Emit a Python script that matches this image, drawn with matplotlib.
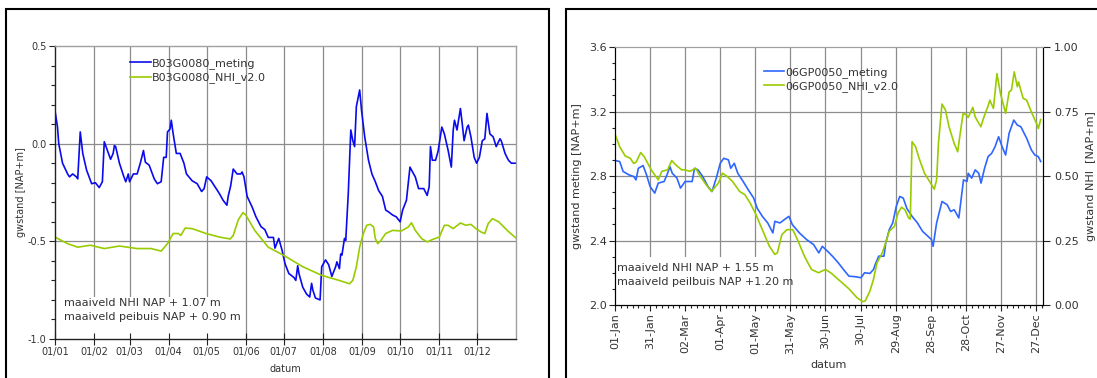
import matplotlib
matplotlib.use("Agg")
import matplotlib.pyplot as plt
from matplotlib.patches import Rectangle
from matplotlib.ticker import MultipleLocator

plt.rcParams['font.family'] = ['DejaVu Sans']

# ---------------- left panel: B03G0080 ----------------
b03_days = [0, 2, 3, 6, 10, 11.5, 14, 17, 18, 20, 22, 25, 29, 32, 35, 37.5, 39, 41.5, 44, 46, 47, 48,
            51, 54, 56, 58, 59, 62, 65, 67.5, 70, 71.5, 74.5, 78.5, 81, 84, 86, 88, 89, 91, 92, 93.5,
            96, 99, 102, 104, 108.5, 112.5, 116, 118, 120, 123.5, 126, 130, 133, 136, 137, 139, 141,
            144, 147, 148, 149.5, 152, 156, 159, 163, 166, 168.7, 172.8, 174, 177, 179.6, 182, 185,
            189, 190.5, 192, 193, 196, 199, 201.5, 203, 204, 206, 209.7, 211, 214, 216.5, 219, 222,
            223, 225, 226, 227, 229, 230, 232, 234, 235.6, 237, 238.4, 241, 242.5, 245, 248, 250.7,
            253.4, 256, 259, 261.6, 264, 267, 270, 273, 275, 278, 280.8, 282, 285, 287.6, 291.7,
            294.4, 296, 297, 298.5, 301, 303, 306, 308, 311, 313.5, 315, 316, 318, 320.7, 322, 323.6,
            326, 327, 329, 331.6, 333.5, 335.7, 338, 340, 341.7, 344, 346.6, 349, 352, 353, 356,
            358.7, 361, 364.6]
b03_meting = [0.17, 0.085, 0.0, -0.10, -0.155, -0.17, -0.155, -0.17, -0.18, 0.06, -0.05, -0.135, -0.205,
              -0.20, -0.225, -0.195, 0.01, -0.035, -0.08, -0.05, -0.01, -0.015, -0.10, -0.16, -0.195,
              -0.155, -0.195, -0.155, -0.155, -0.10, -0.035, -0.095, -0.11, -0.18, -0.205, -0.195,
              -0.07, -0.07, 0.06, 0.075, 0.12, 0.05, -0.05, -0.05, -0.10, -0.155, -0.19, -0.205,
              -0.245, -0.23, -0.17, -0.19, -0.215, -0.255, -0.29, -0.315, -0.27, -0.215, -0.13,
              -0.155, -0.155, -0.145, -0.17, -0.27, -0.325, -0.375, -0.425, -0.44, -0.48, -0.48,
              -0.535, -0.485, -0.545, -0.615, -0.665, -0.685, -0.70, -0.625, -0.665, -0.735, -0.77,
              -0.785, -0.715, -0.75, -0.79, -0.80, -0.63, -0.595, -0.62, -0.68, -0.63, -0.605, -0.64,
              -0.565, -0.57, -0.485, -0.495, -0.255, 0.07, 0.015, -0.015, 0.19, 0.275, 0.17, 0.035,
              -0.085, -0.155, -0.195, -0.24, -0.27, -0.34, -0.35, -0.365, -0.375, -0.40, -0.34,
              -0.29, -0.12, -0.135, -0.17, -0.23, -0.23, -0.265, -0.22, -0.015, -0.085, -0.085,
              -0.04, 0.085, 0.05, -0.035, -0.12, 0.07, 0.12, 0.07, 0.18, 0.11, 0.015, 0.085, 0.095,
              0.035, -0.07, -0.10, -0.07, 0.015, 0.025, 0.155, 0.05, 0.035, -0.015, 0.025, 0.015,
              -0.05, -0.085, -0.10, -0.10]

b03_nhi_days = [0, 10, 18, 28, 39, 51, 65, 76, 84, 89, 93.5, 97.6, 99.5, 103, 108.5, 119.5, 130, 138.6,
                141, 145, 148.7, 151, 158, 168.7, 181, 196, 211, 224.7, 233, 235.6, 238.4, 241, 243.9,
                246.6, 249.3, 252, 253.4, 255.3, 257.5, 261.6, 267, 274, 279.4, 282, 285, 290, 294.4,
                298.5, 304, 308, 311, 315, 320.7, 325, 329, 333, 337, 340, 342.6, 346, 351, 357.7, 364.6]
b03_nhi = [-0.478, -0.512, -0.53, -0.52, -0.537, -0.524, -0.537, -0.537, -0.55, -0.512, -0.46, -0.46,
           -0.47, -0.432, -0.435, -0.46, -0.478, -0.488, -0.47, -0.39, -0.353, -0.366, -0.444, -0.53,
           -0.572, -0.63, -0.674, -0.70, -0.717, -0.70, -0.63, -0.53, -0.46, -0.418, -0.413, -0.426,
           -0.486, -0.512, -0.498, -0.46, -0.444, -0.447, -0.427, -0.405, -0.444, -0.486, -0.503,
           -0.491, -0.478, -0.418, -0.418, -0.435, -0.406, -0.418, -0.413, -0.435, -0.452, -0.46,
           -0.41, -0.384, -0.40, -0.444, -0.483]

left_tick_days = [0, 31, 59, 90, 120, 151, 181, 212, 243, 273, 304, 334]
left_tick_labels = ['01/01', '01/02', '01/03', '01/04', '01/05', '01/06',
                    '01/07', '01/08', '01/09', '01/10', '01/11', '01/12']

# ---------------- right panel: 06GP0050 ----------------
gp_days = [0, 4, 7, 12, 16, 18, 20, 24, 27, 30, 34, 37, 42, 45, 47, 49, 53, 56, 60, 63, 66, 68, 71,
           75, 79.5, 83, 87, 90, 93, 97, 99, 102, 105, 109.6, 114, 118.6, 121.6, 126, 130.6, 135,
           136.7, 141, 148.7, 151.7, 157.7, 163.8, 169.8, 174.3, 177.3, 181.8, 186.3, 191, 195.4,
           200, 206, 210.4, 213.4, 218, 221, 222.5, 225.5, 230, 231.5, 234.5, 237.5, 240.5, 243.5,
           246.5, 249.5, 254, 258.6, 263, 267.6, 270.6, 272, 275, 279.6, 284, 287, 290, 294, 298,
           301, 302, 305, 308, 311, 313, 316, 319, 322, 325, 328, 331, 334, 337, 341, 344, 347,
           352, 356, 359, 362, 364]
gp_meting = [2.896, 2.89, 2.828, 2.807, 2.797, 2.776, 2.848, 2.865, 2.807, 2.735, 2.694, 2.756, 2.766,
             2.817, 2.858, 2.817, 2.787, 2.725, 2.766, 2.766, 2.766, 2.848, 2.838, 2.797, 2.735,
             2.704, 2.797, 2.879, 2.91, 2.90, 2.848, 2.879, 2.817, 2.766, 2.714, 2.663, 2.60, 2.55,
             2.509, 2.447, 2.519, 2.509, 2.55, 2.498, 2.447, 2.406, 2.375, 2.323, 2.364, 2.333, 2.30,
             2.261, 2.22, 2.179, 2.175, 2.169, 2.20, 2.196, 2.22, 2.251, 2.303, 2.303, 2.385, 2.467,
             2.509, 2.612, 2.673, 2.663, 2.60, 2.55, 2.509, 2.457, 2.426, 2.406, 2.364, 2.509, 2.642,
             2.622, 2.58, 2.591, 2.54, 2.776, 2.766, 2.817, 2.787, 2.838, 2.817, 2.756, 2.848, 2.92,
             2.94, 2.982, 3.044, 2.982, 2.93, 3.065, 3.147, 3.116, 3.106, 3.034, 2.962, 2.93, 2.92,
             2.89]

gp_nhi_days = [0, 4, 8.7, 13, 16, 18, 22, 25, 31, 37, 40, 45, 48.5, 52, 57, 60, 64, 69, 73, 78, 82.5,
               88.5, 92, 96, 100.5, 106.6, 111, 115.6, 120, 126, 132, 136.7, 138.8, 142.7, 147, 152,
               156, 162, 168, 174, 180, 185, 191, 200, 207, 212, 214, 218, 221, 224, 228.5, 231.5,
               234.5, 239, 242, 245, 248, 251, 252.5, 254, 257, 260, 264.6, 269, 273, 275, 276.6,
               279.6, 282.6, 285.6, 290, 293, 296, 297.7, 300.7, 302, 306, 308, 312.8, 316, 319,
               320.5, 323.6, 326.6, 329.6, 334, 337, 339, 341.4, 344, 345, 349, 352, 356, 361, 362, 364]
gp_nhi = [0.663, 0.614, 0.578, 0.569, 0.549, 0.553, 0.591, 0.575, 0.524, 0.485, 0.518, 0.524, 0.56,
          0.543, 0.524, 0.524, 0.518, 0.53, 0.498, 0.466, 0.44, 0.473, 0.511, 0.498, 0.479, 0.44,
          0.428, 0.395, 0.356, 0.292, 0.228, 0.196, 0.202, 0.273, 0.292, 0.292, 0.254, 0.189, 0.138,
          0.125, 0.138, 0.123, 0.099, 0.063, 0.028, 0.013, 0.016, 0.054, 0.099, 0.163, 0.202, 0.241,
          0.286, 0.305, 0.356, 0.379, 0.369, 0.338, 0.333, 0.633, 0.614, 0.569, 0.511, 0.479, 0.449,
          0.485, 0.627, 0.779, 0.756, 0.691, 0.627, 0.594, 0.691, 0.743, 0.736, 0.727, 0.766, 0.729,
          0.691, 0.736, 0.771, 0.794, 0.762, 0.897, 0.82, 0.743, 0.826, 0.833, 0.904, 0.846, 0.865,
          0.801, 0.794, 0.749, 0.698, 0.684, 0.719]

right_tick_days = [0, 30, 60, 90, 120, 150, 180, 210, 240, 270, 300, 330, 360]
right_tick_labels = ['01-Jan', '31-Jan', '02-Mar', '01-Apr', '01-May', '31-May', '30-Jun',
                     '30-Jul', '29-Aug', '28-Sep', '28-Oct', '27-Nov', '27-Dec']

BLUE_DARK = '#0a0aee'
BLUE_LIGHT = '#2e66ff'
GREEN = '#99cc00'
GRID = '#8c8c8c'
TEXT = '#333333'

fig = plt.figure(figsize=(10.97, 3.78), dpi=100)

# outer frames around each panel
fig.add_artist(Rectangle((0.0059, -0.05), 0.5 - 0.0059, 0.9775 + 0.05, transform=fig.transFigure,
                         fill=False, lw=1.5, ec='black'))
fig.add_artist(Rectangle((0.5164, -0.05), 0.6, 0.9775 + 0.05, transform=fig.transFigure,
                         fill=False, lw=1.5, ec='black'))

# ---- left panel ----
ax = fig.add_axes([0.0501, 0.1032, 0.4202, 0.7751])
ax.set_xlim(0, 364.6)
ax.set_ylim(-1.0, 0.5)
for d in left_tick_days[1:]:
    ax.axvline(d, color=GRID, lw=0.9, zorder=0.3)
for v in (0.0, -0.5):
    ax.axhline(v, color=GRID, lw=0.9, zorder=0.3)
ax.add_patch(Rectangle((0.0, 0.0), 0.40, 0.143, transform=ax.transAxes, fc='white', ec='none',
                       zorder=0.6))
ax.plot(b03_days, b03_meting, color=BLUE_DARK, lw=1.2, label='B03G0080_meting', zorder=2)
ax.plot(b03_nhi_days, b03_nhi, color=GREEN, lw=1.2, label='B03G0080_NHI_v2.0', zorder=2.1)
ax.set_xticks(left_tick_days)
ax.set_xticklabels(left_tick_labels)
ax.set_yticks([-1.0, -0.5, 0.0, 0.5])
ax.set_yticklabels(['-1.0', '-0.5', '0.0', '0.5'])
ax.yaxis.set_minor_locator(MultipleLocator(0.1))
ax.tick_params(axis='x', direction='inout', length=8, width=0.8, labelsize=7, colors='#222222',
               labelcolor=TEXT, pad=2)
ax.tick_params(axis='y', which='major', direction='out', length=4, width=0.8, labelsize=7,
               colors='#222222', labelcolor=TEXT, pad=2)
ax.tick_params(axis='y', which='minor', direction='out', length=3, width=0.8, colors='#222222')
ax.spines['left'].set_color('#222222')
ax.spines['bottom'].set_color('#222222')
ax.spines['top'].set_color('#a0a0a0')
ax.spines['right'].set_color('#a0a0a0')
for s in ax.spines.values():
    s.set_linewidth(1.0)
ax.set_xlabel('datum', fontsize=7, color=TEXT, labelpad=5)
ax.set_ylabel('gwstand [NAP+m]', fontsize=7, color=TEXT, labelpad=1)
ax.legend(loc='upper left', bbox_to_anchor=(0.162, 0.96), frameon=False, fontsize=8,
          handlelength=1.9, handletextpad=0.1, labelspacing=0.35, borderpad=0, borderaxespad=0,
          labelcolor=TEXT)
ax.text(0.02, 0.123, 'maaiveld NHI NAP + 1.07 m', transform=ax.transAxes, fontsize=8,
        color=TEXT, va='center', ha='left')
ax.text(0.02, 0.075, 'maaiveld peibuis NAP + 0.90 m', transform=ax.transAxes, fontsize=8,
        color=TEXT, va='center', ha='left')

# ---- right panel ----
ax1 = fig.add_axes([0.5606, 0.1931, 0.3902, 0.6825])
ax1.set_xlim(0, 366)
ax1.set_ylim(2.0, 3.6)
for d in right_tick_days[1:]:
    ax1.axvline(d, color=GRID, lw=0.9, zorder=0.3)
for v in (2.4, 2.8, 3.2):
    ax1.axhline(v, color=GRID, lw=0.9, zorder=0.3)
ax1.add_patch(Rectangle((0.0, 0.0), 0.409, 0.186, transform=ax1.transAxes, fc='white', ec='none',
                        zorder=0.6))
l1, = ax1.plot(gp_days, gp_meting, color=BLUE_LIGHT, lw=1.2, label='06GP0050_meting', zorder=2)
ax1.set_xticks(right_tick_days)
ax1.set_xticklabels(right_tick_labels, rotation=90)
ax1.xaxis.set_minor_locator(MultipleLocator(5))
ax1.set_yticks([2.0, 2.4, 2.8, 3.2, 3.6])
ax1.set_yticklabels(['2.0', '2.4', '2.8', '3.2', '3.6'])
ax1.yaxis.set_minor_locator(MultipleLocator(0.1))
ax1.tick_params(axis='both', which='major', direction='out', length=4, width=0.8, labelsize=8,
                colors='#222222', labelcolor=TEXT, pad=2)
ax1.tick_params(axis='both', which='minor', direction='out', length=2.5, width=0.8,
                colors='#222222')
ax1.spines['top'].set_color('#a0a0a0')
ax1.set_xlabel('datum', fontsize=8, color=TEXT, labelpad=4)
ax1.set_ylabel('gwstand meting [NAP+m]', fontsize=8, color=TEXT, labelpad=5)

ax2 = ax1.twinx()
ax2.set_ylim(0.0, 1.0)
l2, = ax2.plot(gp_nhi_days, gp_nhi, color=GREEN, lw=1.2, label='06GP0050_NHI_v2.0', zorder=2)
ax2.set_yticks([0.0, 0.25, 0.5, 0.75, 1.0])
ax2.set_yticklabels(['0.00', '0.25', '0.50', '0.75', '1.00'])
ax2.tick_params(axis='y', direction='out', length=5, width=0.8, labelsize=8, colors='#222222',
                labelcolor=TEXT, pad=3)
ax2.spines['top'].set_color('#a0a0a0')
ax2.set_ylabel('gwstand NHI  [NAP+m]', fontsize=8, color=TEXT, labelpad=5)
ax2.legend(handles=[l1, l2], loc='upper left', bbox_to_anchor=(0.348, 0.922), frameon=False,
           fontsize=8, handlelength=1.8, handletextpad=0.1, labelspacing=0.3, borderpad=0,
           borderaxespad=0, labelcolor=TEXT)
ax1.text(0.004, 0.143, 'maaiveld NHI NAP + 1.55 m', transform=ax1.transAxes, fontsize=8,
         color=TEXT, va='center', ha='left')
ax1.text(0.004, 0.089, 'maaiveld peilbuis NAP +1.20 m', transform=ax1.transAxes, fontsize=8,
         color=TEXT, va='center', ha='left')

fig.savefig('out.png', dpi=100)
